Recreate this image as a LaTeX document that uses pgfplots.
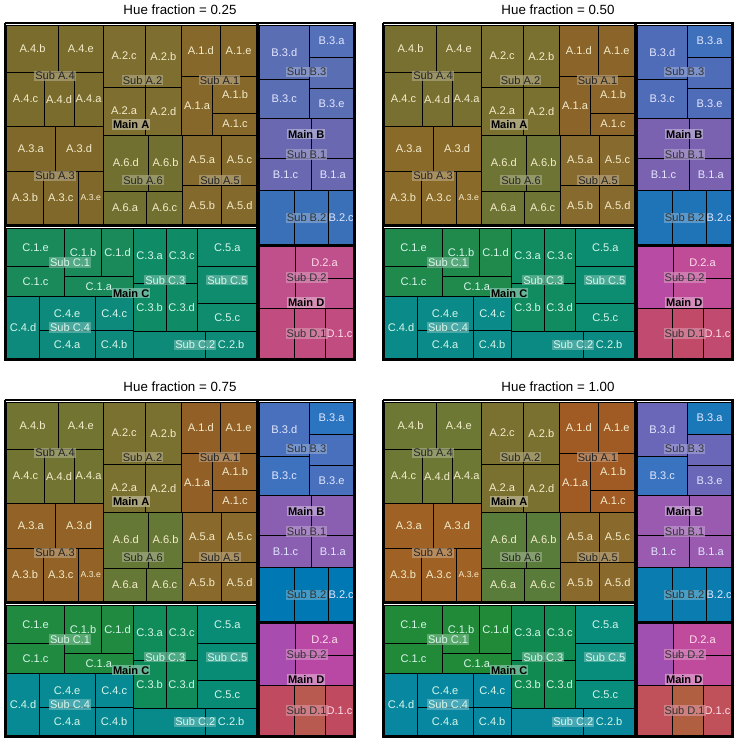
\documentclass[border=0pt]{standalone}
\usepackage{pgfplots}
\pgfplotsset{compat=1.18}
\usepackage{fontspec}
\setmainfont{Liberation Sans}
\newlength\pu \setlength\pu{0.75pt}
\definecolor{LA}{HTML}{F4ECCB}
\definecolor{LB}{HTML}{E2E6FF}
\definecolor{LC}{HTML}{D6F6EA}
\definecolor{LD}{HTML}{FFDDEB}
\newcommand\LR[7]{%
 \addplot[fill=#5,draw=black,line width=0.5pt] coordinates {(#1,#3)(#2,#3)(#2,#4)(#1,#4)(#1,#3)};
 \addplot[draw=none] coordinates {(#1,#3)(#2,#4)} node[pos=0.5,text=#7,font=\fontsize{8.3}{9}\selectfont,inner sep=0pt]{#6};}
\newcommand\SR[7]{%
 \addplot[draw=black,line width=1pt] coordinates {(#1,#3)(#2,#3)(#2,#4)(#1,#4)(#1,#3)};
 \addplot[draw=none] coordinates {(#1,#3)(#2,#4)} node[pos=0.5,text=#7,fill=#5!65!white,fill opacity=0.75,text opacity=1,inner sep=0.8pt,font=\fontsize{8.3}{9}\selectfont]{#6};}
\newcommand\MR[6]{%
 \addplot[draw=black,line width=1.6pt] coordinates {(#1,#3)(#2,#3)(#2,#4)(#1,#4)(#1,#3)};
 \addplot[draw=none] coordinates {(#1,#3)(#2,#4)} node[pos=0.5,text=black,fill=#5!55!white,fill opacity=0.8,text opacity=1,inner sep=0.8pt,font=\bfseries\fontsize{8.3}{9}\selectfont]{#6};}
\newcommand\panel{%
\LR{20}{175}{75}{215}{SA4}{A.4.b}{LA}
\LR{175}{310}{75}{215}{SA4}{A.4.e}{LA}
\LR{20}{133}{215}{378}{SA4}{A.4.c}{LA}
\LR{133}{222}{215}{378}{SA4}{A.4.d}{LA}
\LR{222}{310}{215}{378}{SA4}{A.4.a}{LA}
\LR{20}{165}{378}{512}{SA3}{A.3.a}{LA}
\LR{165}{310}{378}{512}{SA3}{A.3.d}{LA}
\LR{20}{130}{512}{675}{SA3}{A.3.b}{LA}
\LR{130}{235}{512}{675}{SA3}{A.3.c}{LA}
\LR{235}{310}{512}{675}{SA3}{\fontsize{6.5}{7}\selectfont A.3.e}{LA}
\LR{310}{435}{75}{260}{SA2}{A.2.c}{LA}
\LR{435}{545}{75}{260}{SA2}{A.2.b}{LA}
\LR{310}{435}{260}{405}{SA2}{A.2.a}{LA}
\LR{435}{545}{260}{405}{SA2}{A.2.d}{LA}
\LR{545}{660}{75}{228}{SA1}{A.1.d}{LA}
\LR{660}{772}{75}{228}{SA1}{A.1.e}{LA}
\LR{545}{638}{228}{405}{SA1}{A.1.a}{LA}
\LR{638}{772}{228}{338}{SA1}{A.1.b}{LA}
\LR{638}{772}{338}{405}{SA1}{A.1.c}{LA}
\LR{310}{445}{405}{572}{SA6}{A.6.d}{LA}
\LR{445}{548}{405}{572}{SA6}{A.6.b}{LA}
\LR{310}{440}{572}{675}{SA6}{A.6.a}{LA}
\LR{440}{548}{572}{675}{SA6}{A.6.c}{LA}
\LR{548}{665}{405}{555}{SA5}{A.5.a}{LA}
\LR{665}{772}{405}{555}{SA5}{A.5.c}{LA}
\LR{548}{665}{555}{675}{SA5}{A.5.b}{LA}
\LR{665}{772}{555}{675}{SA5}{A.5.d}{LA}
\LR{778}{928}{75}{237}{SB3}{B.3.d}{LB}
\LR{928}{1062}{75}{170}{SB3a}{B.3.a}{LB}
\LR{928}{1062}{170}{265}{SB3}{}{LB}
\LR{778}{928}{237}{355}{SB3c}{B.3.c}{LB}
\LR{928}{1062}{265}{355}{SB3}{B.3.e}{LB}
\LR{778}{935}{355}{475}{SB1}{}{LB}
\LR{935}{1062}{355}{475}{SB1}{}{LB}
\LR{778}{935}{475}{570}{SB1}{B.1.c}{LB}
\LR{935}{1062}{475}{570}{SB1}{B.1.a}{LB}
\LR{778}{882}{570}{735}{SB2}{}{LB}
\LR{882}{985}{570}{735}{SB2}{}{LB}
\LR{985}{1062}{570}{735}{SB2}{B.2.c}{LB}
\LR{20}{193}{685}{798}{SC1}{C.1.e}{LC}
\LR{20}{193}{798}{890}{SC1}{C.1.c}{LC}
\LR{193}{305}{685}{830}{SC1}{C.1.b}{LC}
\LR{305}{400}{685}{830}{SC1}{C.1.d}{LC}
\LR{193}{400}{830}{890}{SC1}{C.1.a}{LC}
\LR{20}{118}{890}{1075}{SC4}{C.4.d}{LC}
\LR{118}{285}{890}{990}{SC4}{C.4.e}{LC}
\LR{118}{285}{990}{1075}{SC4}{C.4.a}{LC}
\LR{285}{400}{890}{990}{SC4}{C.4.c}{LC}
\LR{285}{400}{990}{1075}{SC4}{C.4.b}{LC}
\LR{400}{498}{685}{850}{SC3}{C.3.a}{LC}
\LR{498}{592}{685}{850}{SC3}{C.3.c}{LC}
\LR{400}{498}{850}{995}{SC3}{C.3.b}{LC}
\LR{498}{592}{850}{995}{SC3}{C.3.d}{LC}
\LR{592}{772}{685}{800}{SC5}{C.5.a}{LC}
\LR{592}{772}{800}{910}{SC5}{}{LC}
\LR{592}{772}{910}{995}{SC5}{C.5.c}{LC}
\LR{400}{615}{995}{1075}{SC2}{}{LC}
\LR{615}{772}{995}{1075}{SC2}{C.2.b}{LC}
\LR{778}{885}{740}{925}{SD2b}{}{LD}
\LR{885}{1062}{740}{835}{SD2}{D.2.a}{LD}
\LR{885}{1062}{835}{925}{SD2}{}{LD}
\LR{778}{882}{925}{1075}{SD1}{}{LD}
\LR{882}{975}{925}{1075}{SD1b}{}{LD}
\LR{975}{1062}{925}{1075}{SD1}{D.1.c}{LD}
\SR{20}{310}{75}{378}{SA4}{Sub A.4}{black!85}
\SR{20}{310}{378}{675}{SA3}{Sub A.3}{black!85}
\SR{310}{545}{75}{405}{SA2}{Sub A.2}{black!85}
\SR{545}{772}{75}{405}{SA1}{Sub A.1}{black!85}
\SR{310}{548}{405}{675}{SA6}{Sub A.6}{black!85}
\SR{548}{772}{405}{675}{SA5}{Sub A.5}{black!85}
\SR{778}{1062}{75}{355}{SB3}{Sub B.3}{black!80}
\SR{778}{1062}{355}{570}{SB1}{Sub B.1}{black!80}
\SR{778}{1062}{570}{735}{SB2}{Sub B.2}{black!80}
\SR{20}{400}{685}{890}{SC1}{Sub C.1}{LC}
\SR{20}{400}{890}{1075}{SC4}{Sub C.4}{LC}
\SR{400}{592}{685}{995}{SC3}{Sub C.3}{LC}
\SR{592}{772}{685}{995}{SC5}{Sub C.5}{LC}
\SR{400}{772}{995}{1075}{SC2}{Sub C.2}{LC}
\SR{778}{1062}{740}{925}{SD2}{Sub D.2}{black!80}
\SR{778}{1062}{925}{1075}{SD1}{Sub D.1}{black!80}
\MR{15}{772}{68}{678}{SA2}{Main A}
\MR{775}{1062}{68}{735}{SB1}{Main B}
\MR{15}{772}{678}{1080}{SC3}{Main C}
\MR{775}{1062}{735}{1080}{SD2}{Main D}
\addplot[draw=black,line width=2pt] coordinates {(15,68)(1065,68)(1065,1080)(15,1080)(15,68)};
}
\pgfplotsset{tm/.style={hide axis,scale only axis,width=350\pu,height=337\pu,
 xmin=15,xmax=1065,ymin=68,ymax=1080,y dir=reverse,clip=false,anchor=north west,
 every axis plot/.append style={mark=none,line join=miter},
 title style={font=\fontsize{10}{12}\selectfont,yshift=-3pt}}}
\begin{document}
\begin{tikzpicture}
\path (0,0) rectangle (736\pu,-744\pu);
% panel 1
\definecolor{SA4}{HTML}{7A6C2C}\definecolor{SA2}{HTML}{7E6E30}\definecolor{SA1}{HTML}{85682A}
\definecolor{SA3}{HTML}{80682A}\definecolor{SA6}{HTML}{727030}\definecolor{SA5}{HTML}{836A2C}
\definecolor{SB3}{HTML}{5A6EB4}\definecolor{SB3a}{HTML}{5470B8}\definecolor{SB3c}{HTML}{5A6EB4}
\definecolor{SB1}{HTML}{6A68B0}\definecolor{SB2}{HTML}{3A70B8}
\definecolor{SC1}{HTML}{1A8A5A}\definecolor{SC3}{HTML}{0F8C65}\definecolor{SC5}{HTML}{0F8C6E}
\definecolor{SC4}{HTML}{0E8A7C}\definecolor{SC2}{HTML}{0E8A78}
\definecolor{SD2}{HTML}{C0508C}\definecolor{SD2b}{HTML}{C0508C}\definecolor{SD1}{HTML}{C04C80}\definecolor{SD1b}{HTML}{C04C80}
\begin{axis}[tm,at={(5\pu,-23\pu)},title={Hue fraction = 0.25}]\panel\end{axis}
% panel 2
\definecolor{SA4}{HTML}{787030}\definecolor{SA2}{HTML}{7A7030}\definecolor{SA1}{HTML}{8A6428}
\definecolor{SA3}{HTML}{8A6A28}\definecolor{SA6}{HTML}{6E7433}\definecolor{SA5}{HTML}{876A2E}
\definecolor{SB3}{HTML}{4F6CB8}\definecolor{SB3a}{HTML}{3F70BC}\definecolor{SB3c}{HTML}{4F6CB8}
\definecolor{SB1}{HTML}{7A62B0}\definecolor{SB2}{HTML}{1F74B8}
\definecolor{SC1}{HTML}{1F8A4C}\definecolor{SC3}{HTML}{108C60}\definecolor{SC5}{HTML}{0C8C70}
\definecolor{SC4}{HTML}{0A8A88}\definecolor{SC2}{HTML}{0A8A82}
\definecolor{SD2}{HTML}{C04C98}\definecolor{SD2b}{HTML}{B84CA4}\definecolor{SD1}{HTML}{C04A70}\definecolor{SD1b}{HTML}{C04A68}
\begin{axis}[tm,at={(383\pu,-23\pu)},title={Hue fraction = 0.50}]\panel\end{axis}
% panel 3
\definecolor{SA4}{HTML}{727432}\definecolor{SA2}{HTML}{7A7030}\definecolor{SA1}{HTML}{925F26}
\definecolor{SA3}{HTML}{926226}\definecolor{SA6}{HTML}{667836}\definecolor{SA5}{HTML}{8A6A2C}
\definecolor{SB3}{HTML}{4870BC}\definecolor{SB3a}{HTML}{2A74C0}\definecolor{SB3c}{HTML}{3E72BE}
\definecolor{SB1}{HTML}{8A5EB0}\definecolor{SB2}{HTML}{0078B4}
\definecolor{SC1}{HTML}{208A40}\definecolor{SC3}{HTML}{108C5A}\definecolor{SC5}{HTML}{088C76}
\definecolor{SC4}{HTML}{088A94}\definecolor{SC2}{HTML}{088A8A}
\definecolor{SD2}{HTML}{B848A4}\definecolor{SD2b}{HTML}{A84CB0}\definecolor{SD1}{HTML}{C04A60}\definecolor{SD1b}{HTML}{B85A50}
\begin{axis}[tm,at={(5\pu,-400\pu)},title={Hue fraction = 0.75}]\panel\end{axis}
% panel 4
\definecolor{SA4}{HTML}{6C7834}\definecolor{SA2}{HTML}{7A7030}\definecolor{SA1}{HTML}{A05A24}
\definecolor{SA3}{HTML}{A06224}\definecolor{SA6}{HTML}{5A7C3A}\definecolor{SA5}{HTML}{8A6A2C}
\definecolor{SB3}{HTML}{6A66B8}\definecolor{SB3a}{HTML}{1A78B8}\definecolor{SB3c}{HTML}{3A74C0}
\definecolor{SB1}{HTML}{9A5AB0}\definecolor{SB2}{HTML}{0A7CB0}
\definecolor{SC1}{HTML}{208A38}\definecolor{SC3}{HTML}{108A50}\definecolor{SC5}{HTML}{088C7C}
\definecolor{SC4}{HTML}{0888A0}\definecolor{SC2}{HTML}{08889A}
\definecolor{SD2}{HTML}{C04A9C}\definecolor{SD2b}{HTML}{A050B0}\definecolor{SD1}{HTML}{C0505A}\definecolor{SD1b}{HTML}{B06040}
\begin{axis}[tm,at={(383\pu,-400\pu)},title={Hue fraction = 1.00}]\panel\end{axis}
\end{tikzpicture}
\end{document}
